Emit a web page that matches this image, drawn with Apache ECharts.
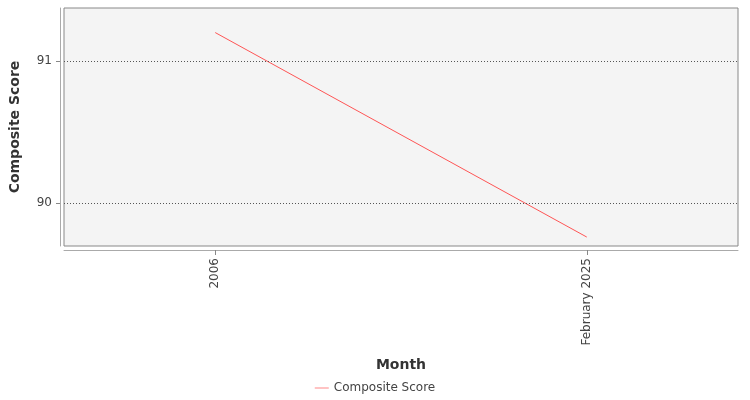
<!DOCTYPE html>
<html><head><meta charset="utf-8">
<script src="https://cdn.jsdelivr.net/npm/echarts@6/dist/echarts.min.js"></script>
<style>html,body{margin:0;padding:0;background:#fff}#c{width:750px;height:400px}</style>
</head><body><div id="c"></div>
<script>
const categories = ['2006', 'February 2025'];
const scores = [91.2, 89.76];
const seriesName = 'Composite Score';
const yTicks = [90, 91];

const chart = echarts.init(document.getElementById('c'));
const font = 'DejaVu Sans';
chart.setOption({
  animation: false,
  textStyle: {fontFamily: font},
  grid: {left: 59, right: 12, top: 8, bottom: 154, show: true, backgroundColor: '#f4f4f4', borderColor: '#888', borderWidth: 1},
  legend: {bottom: 1, left: 'center', data: [seriesName], icon: 'path://M0,0 L20,0 L20,1 L0,1 Z', itemWidth: 14, itemHeight: 1,
    textStyle: {fontFamily: font, fontSize: 12, color: '#444'}},
  xAxis: {
    type: 'value', min: -0.407, max: 1.407,
    name: 'Month', nameLocation: 'middle', nameGap: 108,
    nameTextStyle: {fontFamily: font, fontSize: 14, fontWeight: 'bold', color: '#333'},
    offset: 4,
    axisLine: {show: true, onZero: false, lineStyle: {color: '#aaa'}},
    axisTick: {show: true, customValues: [0, 1], length: 5, lineStyle: {color: '#888'}},
    axisLabel: {customValues: [0, 1], rotate: 90, fontSize: 12, color: '#444', fontFamily: font,
      formatter: v => categories[Math.round(v)]},
    splitLine: {show: false}
  },
  yAxis: {
    type: 'value', min: 89.697, max: 91.373,
    name: 'Composite Score', nameLocation: 'middle', nameGap: 38,
    nameTextStyle: {fontFamily: font, fontSize: 14, fontWeight: 'bold', color: '#333'},
    offset: 4,
    axisLine: {show: true, onZero: false, lineStyle: {color: '#aaa'}},
    axisTick: {show: true, customValues: yTicks, length: 4, lineStyle: {color: '#888'}},
    axisLabel: {customValues: yTicks, fontSize: 12, color: '#444', fontFamily: font},
    splitLine: {show: false}
  },
  series: [{
    name: seriesName, type: 'line', symbol: 'none',
    data: scores.map((v, i) => [i, v]),
    lineStyle: {color: '#ff5555', width: 1}, itemStyle: {color: '#ff5555'},
    markLine: {silent: true, symbol: 'none', label: {show: false},
      lineStyle: {color: '#555', type: [1, 2], width: 1},
      data: yTicks.map(t => ({yAxis: t}))}
  }]
});
</script></body></html>
